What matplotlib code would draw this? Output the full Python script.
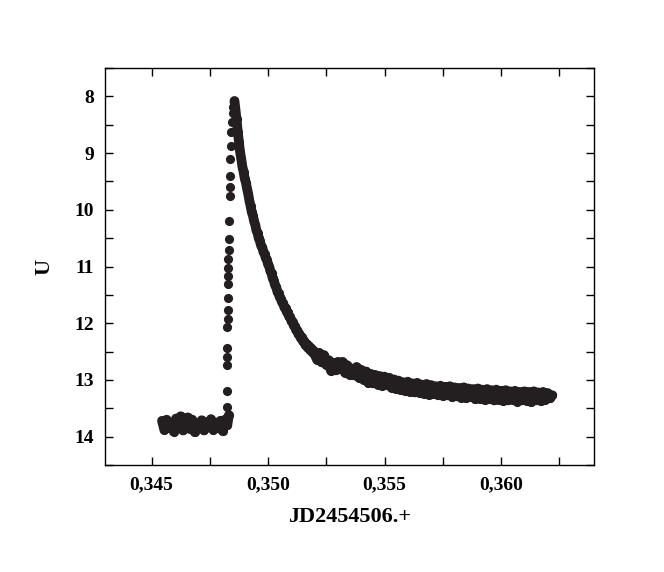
import matplotlib
matplotlib.use('Agg')
import matplotlib.pyplot as plt
from matplotlib.ticker import MultipleLocator, FuncFormatter

# quiescent level before the flare
jd_quiet = [0.34545, 0.34555, 0.34565, 0.34575, 0.34585, 0.34595, 0.34605, 0.34615,
            0.34625, 0.34635, 0.34645, 0.34655, 0.34665, 0.34675, 0.34685, 0.34695,
            0.34705, 0.34715, 0.34725, 0.34735, 0.34745, 0.34755, 0.34765, 0.34775,
            0.34785, 0.34795, 0.34805, 0.34815, 0.34825, 0.34832]
u_quiet = [13.72, 13.88, 13.70, 13.85, 13.76, 13.91, 13.68, 13.83, 13.64, 13.89,
           13.74, 13.66, 13.86, 13.70, 13.92, 13.78, 13.84, 13.71, 13.89, 13.75,
           13.82, 13.69, 13.88, 13.76, 13.85, 13.72, 13.90, 13.70, 13.80, 13.62]

# rise
jd_rise = [0.34822, 0.34823, 0.34824, 0.34825, 0.34825, 0.34826, 0.34827, 0.34827,
           0.34828, 0.34829, 0.34829, 0.34830, 0.34830, 0.34831, 0.34832, 0.34834,
           0.34835, 0.34836, 0.34837, 0.34838, 0.34840, 0.34842, 0.34845, 0.34848,
           0.34851, 0.34854]
u_rise = [13.47, 13.20, 12.74, 12.60, 12.43, 12.07, 11.93, 11.77, 11.55, 11.30,
          11.17, 11.02, 10.87, 10.70, 10.52, 10.19, 9.76, 9.59, 9.41, 9.11,
          8.88, 8.62, 8.45, 8.30, 8.18, 8.10]

# decay
jd_decay = [0.34856, 0.34860, 0.34865, 0.34870, 0.34875, 0.34880, 0.34885, 0.34890,
            0.34895, 0.34900, 0.34905, 0.34910, 0.34915, 0.34920, 0.34925, 0.34930,
            0.34935, 0.34940, 0.34945, 0.34950, 0.34955, 0.34960, 0.34965, 0.34970,
            0.34975, 0.34980, 0.34985, 0.34990, 0.34995, 0.35000, 0.35005, 0.35010,
            0.35015, 0.35020, 0.35025, 0.35030, 0.35035, 0.35040, 0.35045, 0.35050,
            0.35055, 0.35060, 0.35065, 0.35070, 0.35075, 0.35080, 0.35085, 0.35090,
            0.35095, 0.35100, 0.35105, 0.35110, 0.35115, 0.35120, 0.35125, 0.35130,
            0.35135, 0.35140, 0.35145, 0.35150, 0.35155, 0.35160, 0.35165, 0.35170,
            0.35175, 0.35180, 0.35185, 0.35190, 0.35195, 0.35200,
            0.3521, 0.3522, 0.3523, 0.3524, 0.3525, 0.3526, 0.3527, 0.3528, 0.3529,
            0.3530, 0.3531, 0.3532, 0.3533, 0.3534, 0.3535, 0.3536, 0.3537, 0.3538,
            0.3539, 0.3540, 0.3541, 0.3542, 0.3543, 0.3544, 0.3545, 0.3546, 0.3547,
            0.3548, 0.3549, 0.3550, 0.3551, 0.3552, 0.3553, 0.3554, 0.3555, 0.3556,
            0.3557, 0.3558, 0.3559, 0.3560, 0.3561, 0.3562, 0.3563, 0.3564, 0.3565,
            0.3566, 0.3567, 0.3568, 0.3569, 0.3570, 0.3571, 0.3572, 0.3573, 0.3574,
            0.3575, 0.3576, 0.3577, 0.3578, 0.3579, 0.3580, 0.3581, 0.3582, 0.3583,
            0.3584, 0.3585, 0.3586, 0.3587, 0.3588, 0.3589, 0.3590, 0.3591, 0.3592,
            0.3593, 0.3594, 0.3595, 0.3596, 0.3597, 0.3598, 0.3599, 0.3600, 0.3601,
            0.3602, 0.3603, 0.3604, 0.3605, 0.3606, 0.3607, 0.3608, 0.3609, 0.3610,
            0.3611, 0.3612, 0.3613, 0.3614, 0.3615, 0.3616, 0.3617, 0.3618, 0.3619,
            0.3620, 0.3621, 0.3622]
u_decay = [8.08, 8.22, 8.40, 8.62, 8.80, 8.98, 9.10, 9.24, 9.33, 9.45, 9.52, 9.63,
           9.72, 9.84, 9.93, 10.04, 10.10, 10.20, 10.26, 10.36, 10.41, 10.50, 10.55,
           10.63, 10.66, 10.74, 10.77, 10.85, 10.88, 10.96, 11.00, 11.08, 11.12,
           11.21, 11.25, 11.33, 11.36, 11.44, 11.47, 11.54, 11.57, 11.63, 11.65,
           11.72, 11.73, 11.80, 11.81, 11.88, 11.89, 11.96, 11.97, 12.04, 12.05,
           12.12, 12.12, 12.19, 12.19, 12.26, 12.25, 12.32, 12.31, 12.38, 12.36,
           12.43, 12.40, 12.47, 12.44, 12.51, 12.48, 12.55,
           12.64, 12.52, 12.69, 12.56, 12.73, 12.65, 12.84, 12.70, 12.83, 12.68,
           12.81, 12.68, 12.87, 12.74, 12.91, 12.80, 12.92, 12.77, 12.96, 12.82,
           13.00, 12.85, 13.05, 12.89, 13.06, 12.91, 13.08, 12.93, 13.10, 12.94,
           13.09, 12.96, 13.14, 12.99, 13.16, 13.01, 13.18, 13.04, 13.20, 13.03,
           13.21, 13.06, 13.22, 13.05, 13.23, 13.08, 13.24, 13.07, 13.26, 13.09,
           13.25, 13.11, 13.27, 13.10, 13.28, 13.12, 13.27, 13.11, 13.30, 13.13,
           13.29, 13.14, 13.31, 13.13, 13.32, 13.15, 13.30, 13.16, 13.34, 13.15,
           13.33, 13.17, 13.35, 13.16, 13.34, 13.18, 13.36, 13.17, 13.35, 13.19,
           13.37, 13.18, 13.36, 13.20, 13.35, 13.19, 13.38, 13.21, 13.36, 13.20,
           13.37, 13.21, 13.39, 13.20, 13.36, 13.22, 13.37, 13.21, 13.35, 13.23,
           13.32, 13.27]

plt.rcParams['font.family'] = ['Liberation Serif', 'DejaVu Serif']
plt.rcParams['font.weight'] = 'bold'

color = '#231f20'
ms = 6.6
line_style = dict(color=color, lw=7, ms=ms, mew=0,
                  solid_capstyle='round', solid_joinstyle='round')

fig = plt.figure(figsize=(6.64, 5.72), dpi=100)
ax = fig.add_axes([0.158, 0.187, 0.737, 0.694])

ax.plot(jd_quiet, u_quiet, '-o', **line_style)
ax.plot(jd_rise, u_rise, 'o', color=color, ms=ms, mew=0)
ax.plot(jd_decay, u_decay, '-o', **line_style)

ax.set_xlim(0.343, 0.364)
ax.set_ylim(14.5, 7.5)

ax.xaxis.set_major_locator(MultipleLocator(0.005))
ax.xaxis.set_minor_locator(MultipleLocator(0.0025))
ax.yaxis.set_major_locator(MultipleLocator(1))
ax.yaxis.set_minor_locator(MultipleLocator(0.5))
ax.xaxis.set_major_formatter(FuncFormatter(lambda v, p: f'{v:.3f}'.replace('.', ',')))
ax.yaxis.set_major_formatter(FuncFormatter(lambda v, p: f'{v:.0f}'))

ax.tick_params(which='both', direction='in', top=True, right=True,
               length=5.5, width=1, labelsize=14, pad=8)
for s in ax.spines.values():
    s.set_linewidth(1)

ax.set_xlabel('JD2454506.+', fontsize=16, fontweight='bold', labelpad=10)
ax.set_ylabel('U', fontsize=16, fontweight='bold', labelpad=14)

fig.savefig('out.png', dpi=100)
